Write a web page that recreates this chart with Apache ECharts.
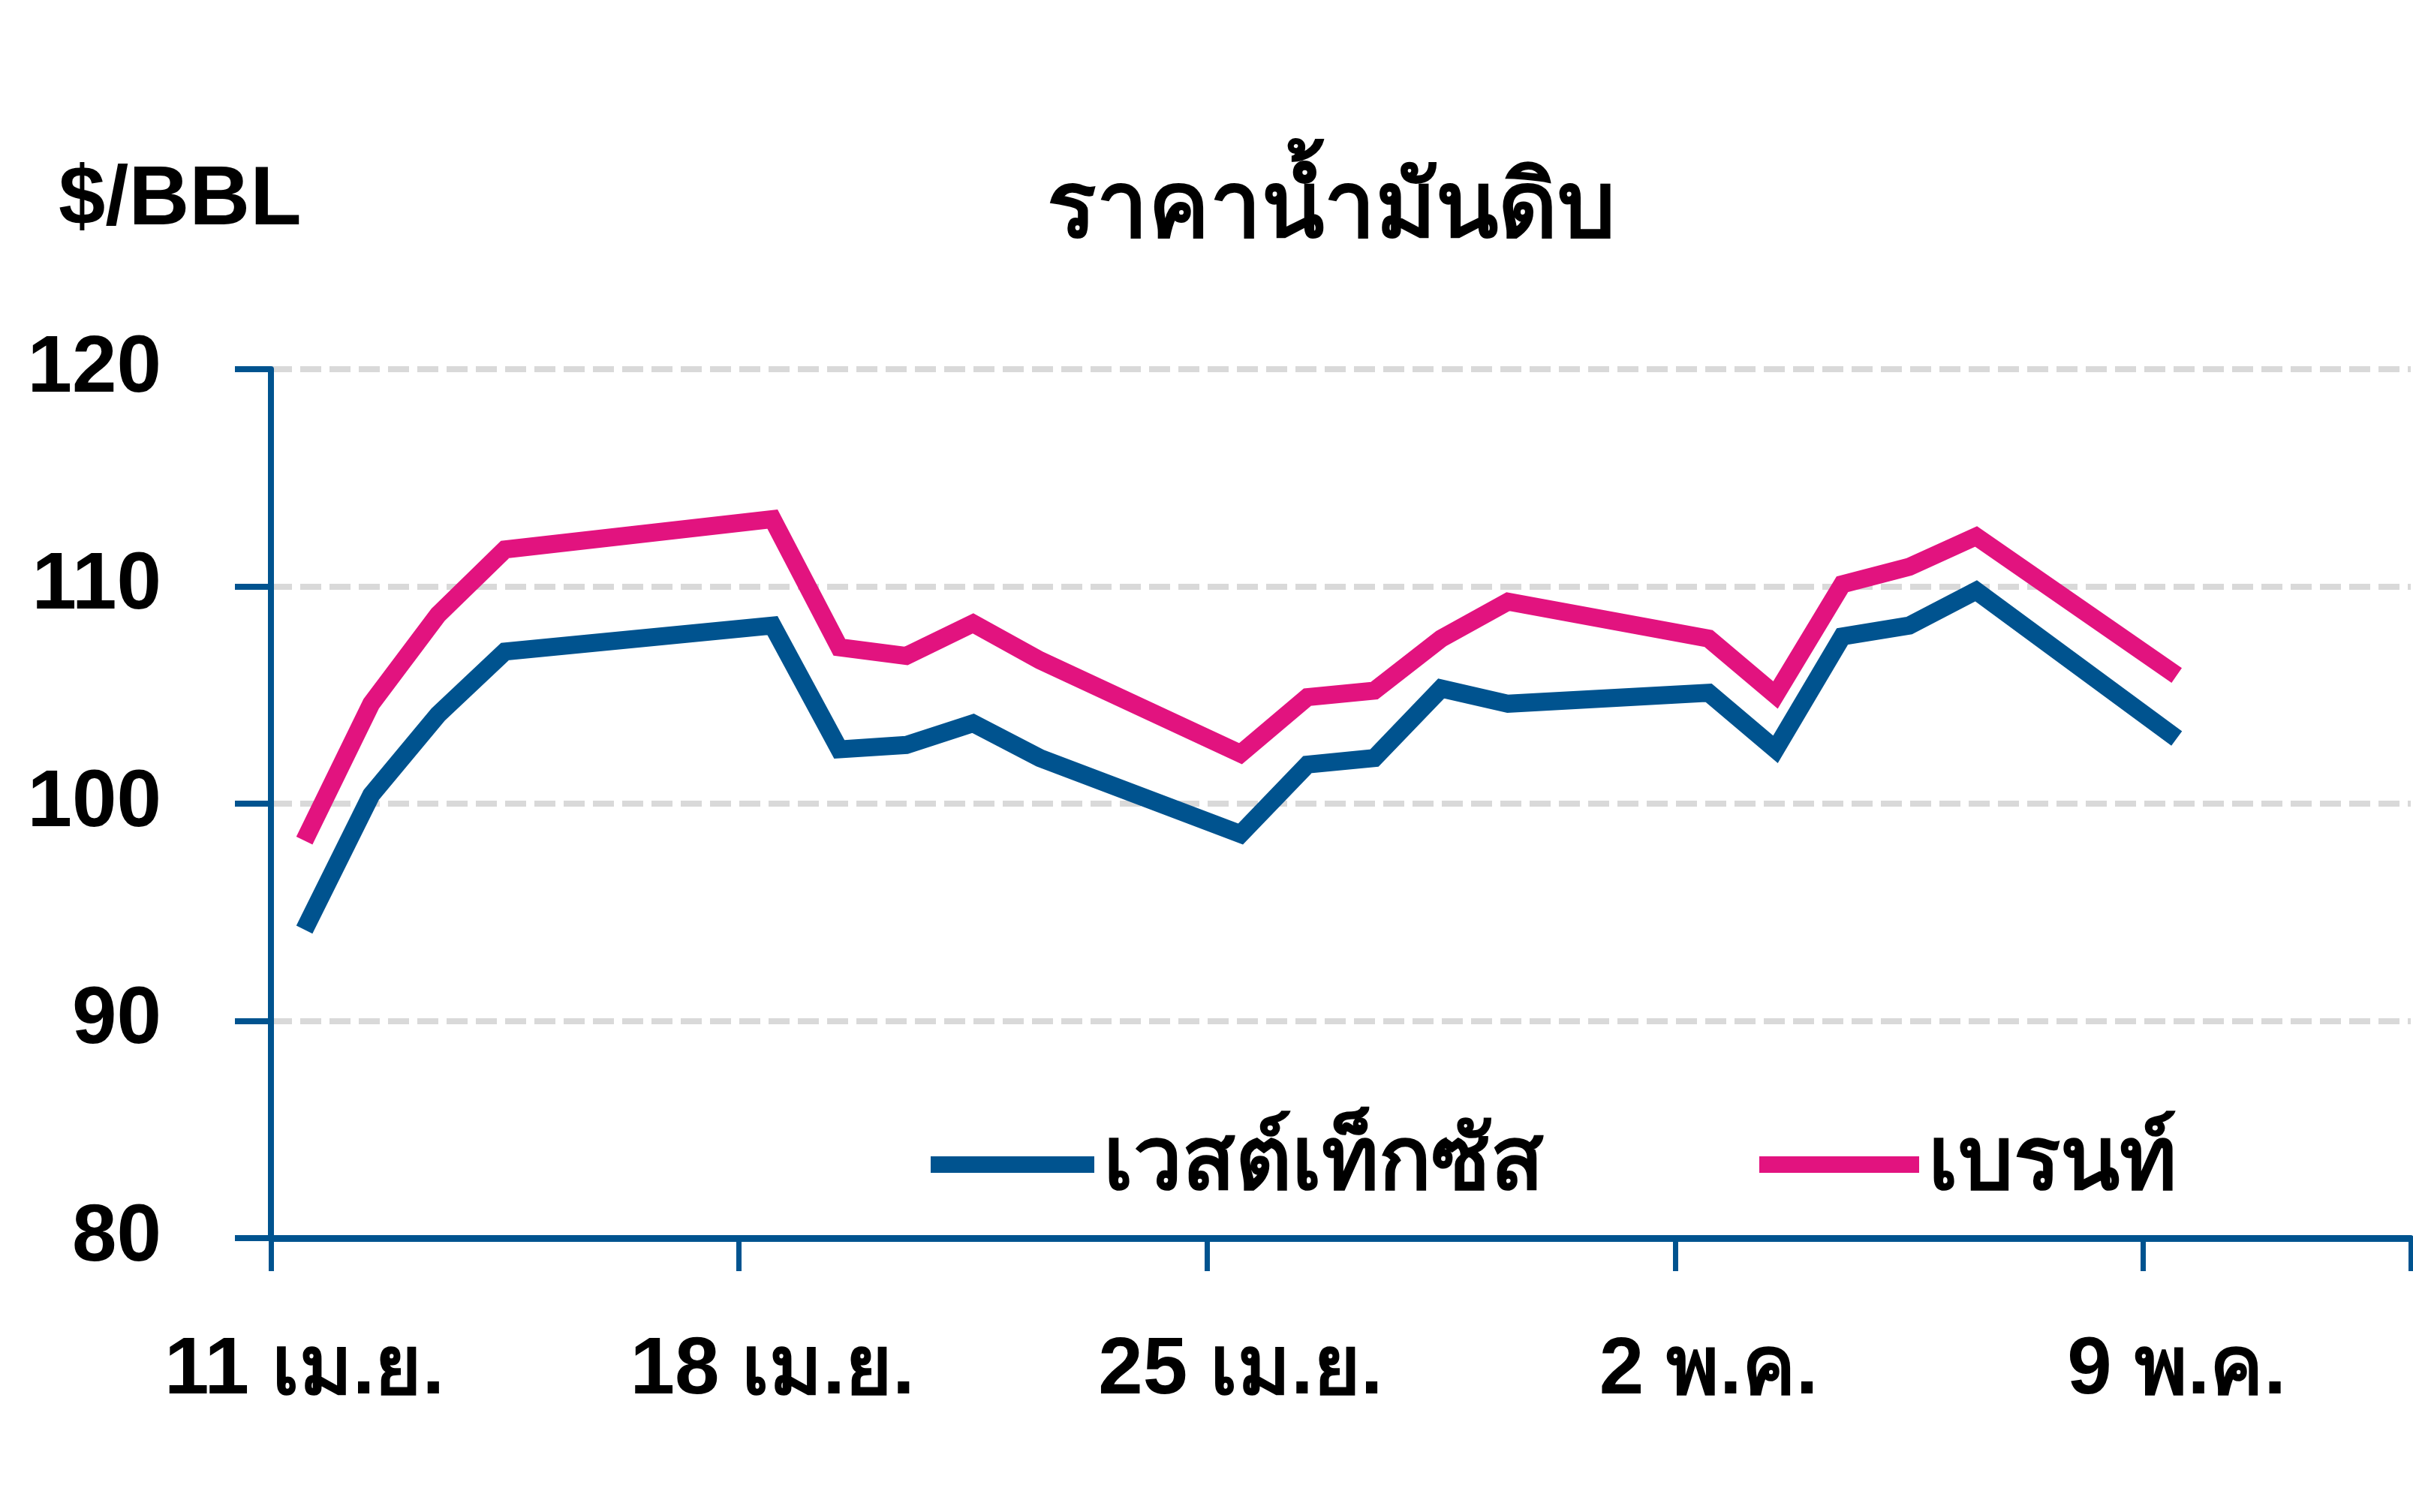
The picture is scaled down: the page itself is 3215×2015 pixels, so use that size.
<!DOCTYPE html>
<html>
<head>
<meta charset="utf-8">
<script src="https://cdn.jsdelivr.net/npm/echarts@6/dist/echarts.min.js"></script>
<style>
html,body{margin:0;padding:0;background:#fff;}
#chart{width:3215px;height:2015px;}
</style>
</head>
<body>
<div id="chart"></div>
<script>
// Calendar days 11 Apr – 12 May (one category per day)
const days = [
  "11 เม.ย.","12 เม.ย.","13 เม.ย.","14 เม.ย.","15 เม.ย.","16 เม.ย.","17 เม.ย.",
  "18 เม.ย.","19 เม.ย.","20 เม.ย.","21 เม.ย.","22 เม.ย.","23 เม.ย.","24 เม.ย.",
  "25 เม.ย.","26 เม.ย.","27 เม.ย.","28 เม.ย.","29 เม.ย.","30 เม.ย.","1 พ.ค.",
  "2 พ.ค.","3 พ.ค.","4 พ.ค.","5 พ.ค.","6 พ.ค.","7 พ.ค.","8 พ.ค.",
  "9 พ.ค.","10 พ.ค.","11 พ.ค.","12 พ.ค."
];
// West Texas (WTI), $/BBL
const wti = [94.2,100.4,104.1,107.0,null,null,null,
  108.2,102.5,102.7,103.7,102.1,null,null,
  98.6,101.8,102.1,105.3,104.6,null,null,
  105.1,102.5,107.7,108.2,109.8,null,null,
  103.0,null,null,null];
// Brent, $/BBL
const brent = [98.3,104.6,108.7,111.7,null,null,null,
  113.1,107.2,106.8,108.3,106.6,null,null,
  102.3,104.9,105.2,107.6,109.3,null,null,
  107.6,105.0,110.1,110.9,112.3,null,null,
  105.9,null,null,null];
const seriesNames = ["เวสต์เท็กซัส","เบรนท์"];
const titleText = "ราคาน้ำมันดิบ";
const unitText = "$/BBL";
const yTicks = {min:80, max:120, interval:10};

const FONT = "'Liberation Sans', Arial, 'Noto Sans', sans-serif";
const BLUE = "#00538F";
const PINK = "#E2137F";
const FS = 107;

const chart = echarts.init(document.getElementById('chart'));
chart.setOption({
  backgroundColor: '#ffffff',
  animation: false,
  title: [
    {text: titleText, left: 1773, top: 220, textAlign: 'center', padding: 0,
     textStyle: {fontFamily: FONT, fontWeight: 'bold', fontSize: 122, color: '#000'}},
    {text: unitText, left: 78, top: 212, padding: 0,
     textStyle: {fontFamily: FONT, fontWeight: 'bold', fontSize: 112, color: '#000'}}
  ],
  legend: [
    {data: [seriesNames[0]], left: 1240, top: 1494, padding: 0, icon: 'rect',
     itemWidth: 218, itemHeight: 22,
     textStyle: {fontFamily: FONT, fontWeight: 'bold', fontSize: 116, color: '#000', padding: [0,0,0,7]}},
    {data: [seriesNames[1]], left: 2344, top: 1494, padding: 0, icon: 'rect',
     itemWidth: 213, itemHeight: 22,
     textStyle: {fontFamily: FONT, fontWeight: 'bold', fontSize: 116, color: '#000', padding: [0,0,0,7]}}
  ],
  grid: {left: 361, right: 3, top: 492, bottom: 365, containLabel: false},
  xAxis: {
    type: 'category', data: days, boundaryGap: true,
    axisLine: {show: true, lineStyle: {color: BLUE, width: 9}},
    axisTick: {show: true, interval: 6, length: 44, lineStyle: {color: BLUE, width: 7}},
    axisLabel: {interval: 6, margin: 124, fontFamily: FONT, fontWeight: 'bold', fontSize: FS, color: '#000'},
    splitLine: {show: false}
  },
  yAxis: {
    type: 'value', min: yTicks.min, max: yTicks.max, interval: yTicks.interval,
    axisLine: {show: true, lineStyle: {color: BLUE, width: 8}},
    axisTick: {show: true, length: 48, lineStyle: {color: BLUE, width: 8}},
    axisLabel: {margin: 146, fontFamily: FONT, fontWeight: 'bold', fontSize: FS, color: '#000'},
    splitLine: {show: true, lineStyle: {color: '#D9D9D9', width: 8, type: [28, 11]}}
  },
  series: [
    {name: seriesNames[0], type: 'line', data: wti, connectNulls: true, showSymbol: false, symbol: 'none',
     color: BLUE, lineStyle: {color: BLUE, width: 24, cap: 'butt', join: 'miter'}, z: 3},
    {name: seriesNames[1], type: 'line', data: brent, connectNulls: true, showSymbol: false, symbol: 'none',
     color: PINK, lineStyle: {color: PINK, width: 24, cap: 'butt', join: 'miter'}, z: 4}
  ]
});
</script>
</body>
</html>
